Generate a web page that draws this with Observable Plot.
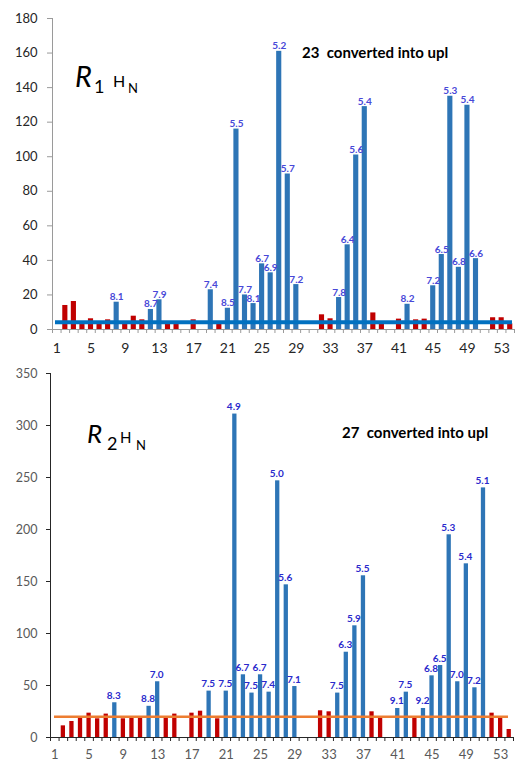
<!DOCTYPE html>
<html><head><meta charset="utf-8">
<script src="https://cdn.jsdelivr.net/npm/d3@7"></script>
<script src="https://cdn.jsdelivr.net/npm/@observablehq/plot@0.6"></script>
<style>
body{margin:0;background:#fff;}
#wrap{position:relative;width:516px;height:761px;overflow:hidden;}
#top{position:absolute;left:0;top:0;}
#bot{position:absolute;left:0;top:360px;}
svg{display:block;}
</style></head><body>
<div id="wrap"><div id="top"></div><div id="bot"></div></div>
<script>
// ---------- data ----------
const residues = [1,2,3,4,5,6,7,8,9,10,11,12,13,14,15,16,17,18,19,20,21,22,23,24,25,26,27,28,29,30,31,32,33,34,35,36,37,38,39,40,41,42,43,44,45,46,47,48,49,50,51,52,53,54];

const r1Values = [null,13.9,16.2,3,6.2,3.3,5.6,15.8,3,7.7,5.6,11.6,17.2,3,3,null,5.6,null,23,3,12.3,116,20,15,38,32.8,161,90,26,null,null,8.5,6.2,18.5,49,101,129,9.6,3.4,null,6,14.6,5.6,6,25.3,43.4,135,36,129.8,41,null,6.8,6.8,3.3];
const r1Labels = [null,null,null,null,null,null,null,"8.1",null,null,null,"8.7","7.9",null,null,null,null,null,"7.4",null,"8.5","5.5","7.7","8.1","6.7","6.9","5.2","5.7","7.2",null,null,null,null,"7.8","6.4","5.6","5.4",null,null,null,null,"8.2",null,null,"7.2","6.5","5.3","6.8","5.4","6.6",null,null,null,null];
const r1Threshold = 4.2;
const r1YTicks = [0,20,40,60,80,100,120,140,160,180];
const r1Note = "23  converted into upl";

const r2Values = [null,11.2,15.4,19.9,23.4,18,22.5,33.4,18,20,20,30,53.6,19,22.5,null,23.4,25.3,44.6,18,44.6,311,60.3,42.7,60.3,43.6,246.8,146.8,49,null,null,25.7,24.7,42.7,82,107.4,155.5,24.7,19.9,null,27.9,43.6,19.9,27.9,59.3,69.2,194.9,53.6,167,47.8,240,23.4,19.2,7.7];
const r2Labels = [null,null,null,null,null,null,null,"8.3",null,null,null,"8.8","7.0",null,null,null,null,null,"7.5",null,"7.5","4.9","6.7","7.5","6.7","7.4","5.0","5.6","7.1",null,null,null,null,"7.5","6.3","5.9","5.5",null,null,null,"9.1","7.5",null,"9.2","6.8","6.5","5.3","7.0","5.4","7.2","5.1",null,null,null];
const r2Threshold = 20;
const r2YTicks = [0,50,100,150,200,250,300,350];
const r2Note = "27  converted into upl";

const xTickLabels = [1,5,9,13,17,21,25,29,33,37,41,45,49,53];

const BLUE = "#2e75b6", RED = "#c00000";
const FONT = "Lato, 'Open Sans', sans-serif";

function chart(o) {
  const rows = residues.map((r, i) => ({r, v: o.values[i], label: o.labels[i]})).filter(d => d.v != null);
  const bounds = residues.map(r => r - 0.5).concat([residues[residues.length - 1] + 0.5]);
  const svg = Plot.plot({
    width: 516, height: o.height,
    marginTop: o.mt, marginBottom: o.mb, marginLeft: o.ml, marginRight: o.mr,
    style: {fontFamily: FONT, background: "#fff", overflow: "visible"},
    x: {domain: [0.5, 54.5], axis: null},
    y: {domain: [0, o.ymax], axis: null},
    marks: [
      Plot.rectY(rows, {x1: d => d.r - o.bw, x2: d => d.r + o.bw, y1: 0, y2: "v", fill: d => d.label ? BLUE : RED}),
      Plot.ruleX([0.5], {stroke: o.yAxisColor}),
      Plot.ruleY([0], {stroke: o.xAxisColor}),
      Plot.ruleY([o.threshold], {stroke: o.lineColor, strokeWidth: o.lineWidth, insetLeft: o.li, insetRight: o.ri}),
      Plot.text(rows.filter(d => d.label), {x: "r", y: "v", text: "label", lineAnchor: "bottom", dy: o.ldy, dx: o.ldx, fill: o.labelColor, fontWeight: "bold", fontSize: 10}),
      Plot.axisY({ticks: o.yTicks, tickSize: o.ytickSize, tickPadding: o.ytickPad, stroke: o.yAxisColor, fill: o.ytextColor, fontSize: o.yfs, tickFormat: d => String(d), label: null}),
      Plot.axisX({ticks: bounds, tickSize: 4, tickFormat: () => "", stroke: o.xAxisColor, label: null}),
      Plot.axisX({ticks: xTickLabels, tickSize: 0, tickPadding: o.xtickPad, fill: o.xtextColor, fontSize: o.xfs, tickFormat: d => String(d), label: null})
    ]
  });
  const g = d3.select(svg).append("g").attr("font-family", FONT).attr("fill", "#000").attr("text-anchor", "start");
  const t = o.title;
  g.append("text").attr("x", t.rx).attr("y", t.ry).attr("font-size", t.rs).attr("font-style", "italic").text("R");
  g.append("text").attr("x", t.sx).attr("y", t.sy).attr("font-size", t.ss).text(t.sub);
  g.append("text").attr("x", t.hx).attr("y", t.ry).attr("font-size", t.hs).text("H");
  g.append("text").attr("x", t.nx).attr("y", t.sy).attr("font-size", t.ns).text("N");
  g.append("text").attr("x", o.note.x).attr("y", o.note.y).attr("font-size", 15).attr("font-weight", "bold")
    .style("white-space", "pre").text(o.note.text);
  return svg;
}

document.getElementById("top").appendChild(chart({
  values: r1Values, labels: r1Labels, threshold: r1Threshold, yTicks: r1YTicks, ymax: 180,
  height: 360, mt: 18, mb: 31, ml: 52, mr: 2, bw: 0.3,
  lineColor: "#0070c0", lineWidth: 4, li: 3, ri: 2,
  labelColor: "#4848d8", ldy: -2, ldx: 0,
  yAxisColor: "#9a9a9a", xAxisColor: "#9a9a9a", ytextColor: "#262626", xtextColor: "#262626",
  ytickSize: 5, ytickPad: 10, yfs: 13, xtickPad: 14, xfs: 14,
  title: {rx: 75, ry: 87, rs: 29, sub: "1", sx: 94, sy: 93, ss: 18, hx: 113, hs: 16, nx: 128, ns: 13},
  note: {x: 302, y: 58, text: r1Note}
}));

document.getElementById("bot").appendChild(chart({
  values: r2Values, labels: r2Labels, threshold: r2Threshold, yTicks: r2YTicks, ymax: 350,
  height: 401, mt: 13, mb: 24, ml: 50, mr: 3, bw: 0.25,
  lineColor: "#ed7d31", lineWidth: 2.5, li: 4, ri: 5,
  labelColor: "#2a2acc", ldy: -4, ldx: -1,
  yAxisColor: "#262626", xAxisColor: "#262626", ytextColor: "#595959", xtextColor: "#595959",
  ytickSize: 4, ytickPad: 9, yfs: 12.5, xtickPad: 12, xfs: 13,
  title: {rx: 87, ry: 83, rs: 26, sub: "2", sx: 107, sy: 90, ss: 18, hx: 120, hs: 15, nx: 136, ns: 13},
  note: {x: 342, y: 78, text: r2Note}
}));
</script>
</body></html>
